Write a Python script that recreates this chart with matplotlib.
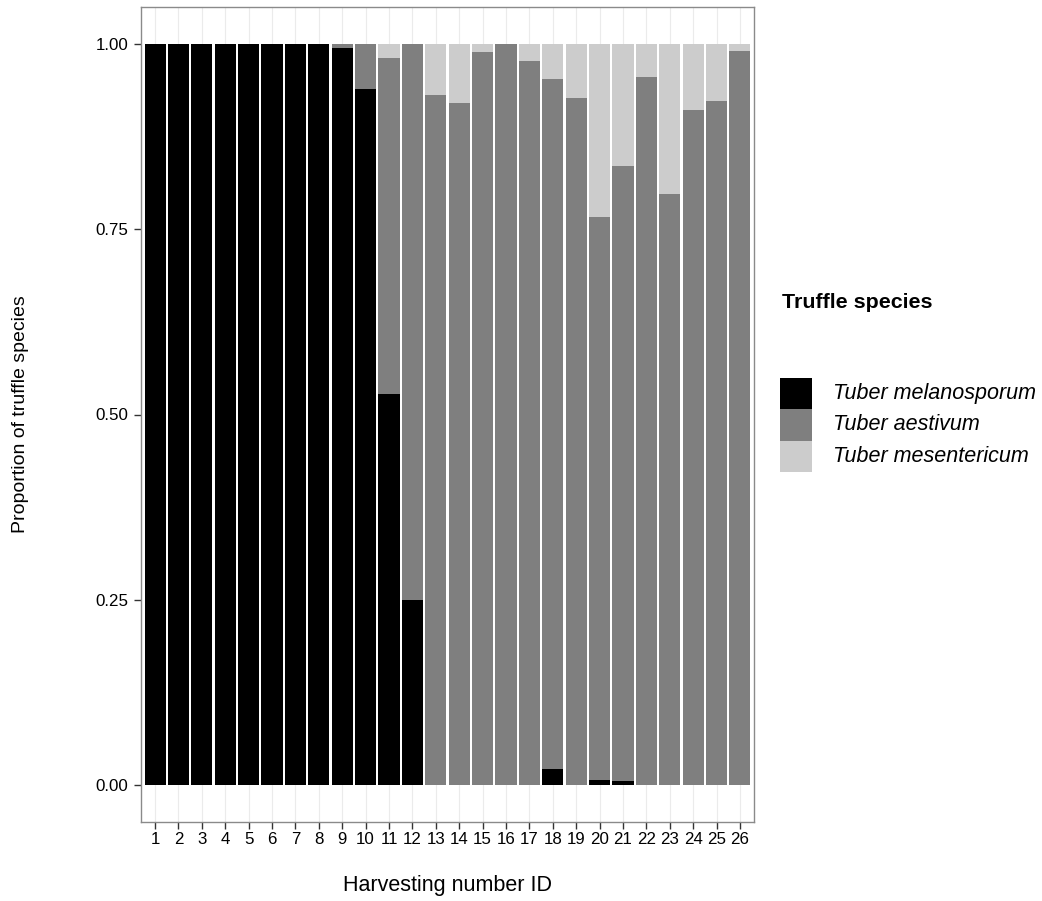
import matplotlib
matplotlib.use("Agg")
import matplotlib.pyplot as plt
import numpy as np
from matplotlib.patches import Rectangle

plt.rcParams['font.family'] = ['Liberation Sans', 'DejaVu Sans']

harvest_ids = [str(i) for i in range(1, 27)]
melanosporum = [1.0, 1.0, 1.0, 1.0, 1.0, 1.0, 1.0, 1.0, 0.994, 0.940, 0.527, 0.250, 0.0,
                0.0, 0.0, 0.0, 0.0, 0.022, 0.0, 0.007, 0.006, 0.0, 0.0, 0.0, 0.0, 0.0]
aestivum = [0.0, 0.0, 0.0, 0.0, 0.0, 0.0, 0.0, 0.0, 0.006, 0.060, 0.454, 0.750, 0.931,
            0.921, 0.989, 1.0, 0.977, 0.931, 0.927, 0.760, 0.830, 0.956, 0.797, 0.911, 0.923, 0.991]
mesentericum = [0.0, 0.0, 0.0, 0.0, 0.0, 0.0, 0.0, 0.0, 0.0, 0.0, 0.019, 0.0, 0.069,
                0.079, 0.011, 0.0, 0.023, 0.047, 0.073, 0.233, 0.164, 0.044, 0.203, 0.089, 0.077, 0.009]
species = ["Tuber melanosporum", "Tuber aestivum", "Tuber mesentericum"]
colors = ["#000000", "#7f7f7f", "#cccccc"]

W, H = 1042, 901
fig = plt.figure(figsize=(W / 100, H / 100), dpi=100)
ax = fig.add_axes([141 / W, 1 - 822 / H, 613 / W, 815 / H])

x = np.arange(1, 27)
m = np.array(melanosporum); a = np.array(aestivum); s = np.array(mesentericum)
ax.bar(x, m, width=0.9, color=colors[0], zorder=2)
ax.bar(x, a, width=0.9, bottom=m, color=colors[1], zorder=2)
ax.bar(x, s, width=0.9, bottom=m + a, color=colors[2], zorder=2)

ax.set_xlim(0.4, 26.6)
ax.set_ylim(-0.05, 1.05)
ax.set_xticks(x)
ax.set_xticklabels(harvest_ids)
ax.set_yticks([0, 0.25, 0.5, 0.75, 1.0])
ax.set_yticklabels(["0.00", "0.25", "0.50", "0.75", "1.00"])
ax.grid(axis='x', color='#ebebeb', lw=0.8, zorder=0)
ax.set_axisbelow(True)
for sp in ax.spines.values():
    sp.set_color('#8a8a8a')
    sp.set_linewidth(1.0)
ax.tick_params(axis='both', direction='out', length=5, width=1, color='#333333',
               labelsize=12.2, labelcolor='black')
ax.tick_params(axis='x', pad=2.5)
ax.tick_params(axis='y', pad=4)
ax.set_xlabel("Harvesting number ID", fontsize=15.5, labelpad=20)
ax.set_ylabel("Proportion of truffle species", fontsize=14, labelpad=48)

# legend (drawn manually in figure pixel coordinates)
fig.text(782 / W, 1 - 302 / H, "Truffle species", fontsize=15.4, fontweight='bold',
         ha='left', va='center')
key_top, key_h, key_w, key_x = 378, 31.3, 32, 780
for i, (name, c) in enumerate(zip(species, colors)):
    y0 = key_top + i * key_h
    fig.patches.append(Rectangle((key_x / W, 1 - (y0 + key_h) / H), key_w / W, key_h / H,
                                 transform=fig.transFigure, facecolor=c, edgecolor='none'))
    fig.text(833 / W, 1 - (y0 + key_h / 2) / H, name, fontsize=15.5, fontstyle='italic',
             ha='left', va='center')

fig.savefig("out.png", dpi=100)
